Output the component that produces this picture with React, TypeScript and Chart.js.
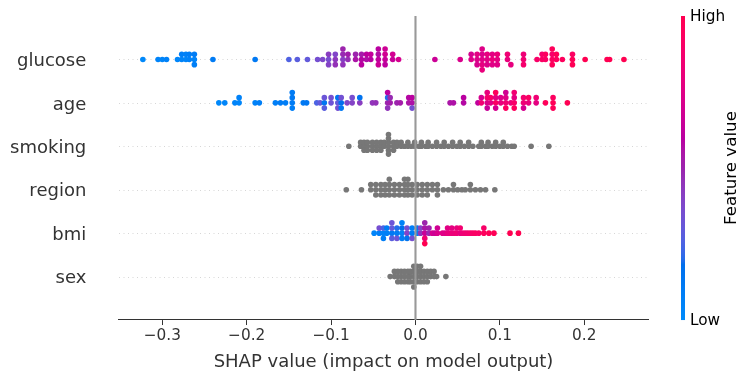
import React, { useEffect, useRef } from "react";
import { Chart, registerables } from "chart.js";

Chart.register(...registerables);

// ---------- data ----------
const FEATURES = ["glucose", "age", "smoking", "region", "bmi", "sex"]; // top to bottom
const X_TICKS = [-0.3, -0.2, -0.1, 0.0, 0.1, 0.2];
const X_MIN = -0.3513;
const X_MAX = 0.2755;
const X_TITLE = "SHAP value (impact on model output)";
const CBAR_LABELS = ["Low", "High"];
const CBAR_TITLE = "Feature value";

const glucoseShap = [
  -0.323, -0.305, -0.3, -0.295, -0.282, -0.277, -0.277, -0.272, -0.272, -0.268, -0.268,
  -0.262, -0.262, -0.262, -0.24, -0.19, -0.15, -0.14, -0.128,
  -0.116, -0.11, -0.103, -0.103, -0.103, -0.095, -0.095, -0.095, -0.086, -0.086, -0.086, -0.086,
  -0.08, -0.08, -0.071, -0.071, -0.064, -0.064, -0.064, -0.058, -0.058, -0.053, -0.053,
  -0.044, -0.044, -0.044, -0.044, -0.036, -0.036, -0.036, -0.036, -0.027, -0.027, -0.02,
  0.023, 0.053, 0.066, 0.066, 0.073, 0.073, 0.073, 0.079, 0.079, 0.079, 0.079, 0.079,
  0.085, 0.085, 0.085, 0.091, 0.091, 0.091, 0.097, 0.097, 0.097, 0.109, 0.109, 0.113,
  0.128, 0.128, 0.128, 0.144, 0.15, 0.15, 0.154, 0.154, 0.162, 0.162, 0.162, 0.162,
  0.167, 0.167, 0.174, 0.186, 0.186, 0.186, 0.201, 0.227, 0.23, 0.247,
];
const glucoseValue = [
  0.02, 0.05, 0.04, 0.06, 0.03, 0.05, 0.08, 0.04, 0.07, 0.06, 0.09,
  0.05, 0.1, 0.08, 0.11, 0.12, 0.26, 0.28, 0.3,
  0.35, 0.38, 0.36, 0.42, 0.4, 0.44, 0.39, 0.46, 0.41, 0.48, 0.45, 0.5,
  0.47, 0.52, 0.55, 0.5, 0.58, 0.53, 0.6, 0.56, 0.61, 0.59, 0.63,
  0.62, 0.57, 0.66, 0.6, 0.64, 0.68, 0.61, 0.67, 0.65, 0.69, 0.7,
  0.66, 0.72, 0.74, 0.7, 0.73, 0.77, 0.71, 0.75, 0.72, 0.78, 0.74, 0.8,
  0.76, 0.79, 0.73, 0.81, 0.77, 0.75, 0.78, 0.82, 0.76, 0.8, 0.84, 0.79,
  0.86, 0.83, 0.88, 0.9, 0.92, 0.88, 0.91, 0.94, 0.93, 0.89, 0.95, 0.96,
  0.94, 0.97, 0.95, 0.97, 0.93, 0.98, 1.0, 0.99, 1.0, 1.0,
];

const ageShap = [
  -0.233, -0.226, -0.214, -0.209, -0.209, -0.19, -0.185, -0.166, -0.16, -0.154,
  -0.146, -0.146, -0.146, -0.146, -0.133, -0.129,
  -0.117, -0.113, -0.108, -0.108, -0.108, -0.1, -0.1, -0.092, -0.092, -0.092,
  -0.088, -0.088, -0.088, -0.081, -0.075, -0.075, -0.066, -0.066,
  -0.051, -0.047, -0.033, -0.033, -0.033, -0.033, -0.03, -0.03, -0.022, -0.018,
  -0.008, -0.008, -0.004, -0.004, -0.004,
  0.041, 0.045, 0.057, 0.057, 0.074, 0.078, 0.078, 0.085, 0.085, 0.085, 0.085,
  0.089, 0.089, 0.095, 0.095, 0.095, 0.095, 0.101, 0.101, 0.107, 0.107, 0.107, 0.107,
  0.113, 0.117, 0.117, 0.117, 0.117, 0.128, 0.128, 0.128, 0.134, 0.134, 0.143, 0.143,
  0.154, 0.163, 0.163, 0.163, 0.18,
];
const ageValue = [
  0.02, 0.04, 0.05, 0.03, 0.06, 0.06, 0.08, 0.08, 0.1, 0.09,
  0.1, 0.12, 0.08, 0.11, 0.12, 0.13,
  0.25, 0.3, 0.14, 0.32, 0.28, 0.33, 0.35, 0.3, 0.15, 0.35,
  0.18, 0.34, 0.12, 0.38, 0.4, 0.36, 0.42, 0.16,
  0.45, 0.46, 0.5, 0.2, 0.45, 0.6, 0.52, 0.48, 0.5, 0.53,
  0.55, 0.58, 0.56, 0.6, 0.35,
  0.55, 0.56, 0.58, 0.6, 0.62, 0.85, 0.7, 0.72, 0.88, 0.65, 0.8,
  0.75, 0.9, 0.92, 0.78, 0.7, 0.95, 0.8, 0.73, 0.85, 0.75, 0.93, 0.68,
  0.82, 0.9, 0.78, 0.95, 0.85, 0.83, 0.87, 0.7, 0.8, 0.92, 0.78, 0.84,
  0.96, 0.98, 0.94, 0.97, 0.99,
];

const smokingShap = [
  -0.079, -0.065, -0.065, -0.061, -0.061, -0.061, -0.057, -0.057, -0.057,
  -0.051, -0.051, -0.051, -0.046, -0.046, -0.046, -0.041, -0.041, -0.041,
  -0.037, -0.037, -0.032, -0.032, -0.032, -0.032, -0.032, -0.032,
  -0.026, -0.026, -0.026, -0.022, -0.022,
  -0.017, -0.017, -0.013, -0.009, -0.009, -0.005, -0.001, -0.001, 0.004, 0.007, 0.007,
  0.012, 0.015, 0.015, 0.02, 0.025, 0.025, 0.03, 0.034, 0.034, 0.039, 0.044, 0.044,
  0.049, 0.053, 0.053, 0.058, 0.063, 0.063, 0.068,
  0.075, 0.078, 0.078, 0.083, 0.086, 0.086, 0.091, 0.095, 0.095, 0.1, 0.104, 0.104,
  0.109, 0.114, 0.117, 0.137, 0.158,
];

const regionShap = [
  -0.082, -0.064, -0.053, -0.053, -0.047, -0.047, -0.047, -0.041, -0.041, -0.041,
  -0.036, -0.036, -0.036, -0.031, -0.031, -0.031, -0.031, -0.025, -0.025, -0.025,
  -0.019, -0.019, -0.019, -0.013, -0.013, -0.013, -0.013, -0.009, -0.009, -0.009, -0.009,
  -0.004, -0.004, -0.004, 0.002, 0.002, 0.002, 0.008, 0.008, 0.008, 0.014, 0.014, 0.014,
  0.02, 0.02, 0.026, 0.026, 0.026,
  0.033, 0.039, 0.045, 0.045, 0.05, 0.055, 0.059, 0.065, 0.065, 0.071, 0.077, 0.083, 0.094,
];

const bmiShap = [
  -0.049, -0.043, -0.043, -0.038, -0.038, -0.038, -0.034, -0.034,
  -0.028, -0.028, -0.028, -0.028, -0.022, -0.022, -0.022, -0.016, -0.016, -0.016, -0.016,
  -0.01, -0.01, -0.01, -0.004, -0.004, -0.004, 0.002, 0.002, 0.006, 0.006,
  0.011, 0.011, 0.011, 0.011, 0.011, 0.016, 0.016, 0.02, 0.023, 0.026, 0.026,
  0.032, 0.035, 0.038, 0.038, 0.04, 0.043, 0.043, 0.046, 0.049, 0.049, 0.053, 0.053,
  0.056, 0.059, 0.062, 0.065, 0.068, 0.071, 0.075, 0.081, 0.081, 0.087, 0.093, 0.112, 0.122,
];
const bmiValue = [
  0.05, 0.08, 0.35, 0.06, 0.25, 0.09, 0.08, 0.11,
  0.12, 0.3, 0.28, 0.32, 0.1, 0.2, 0.32, 0.07, 0.18, 0.09, 0.06,
  0.4, 0.35, 0.15, 0.1, 0.08, 0.35, 0.06, 0.12, 0.45, 0.4,
  0.65, 0.55, 0.85, 0.5, 1.0, 0.48, 0.52, 0.7, 0.66, 0.72, 0.68,
  0.75, 0.74, 0.8, 0.76, 0.79, 0.82, 0.78, 0.81, 0.84, 0.8, 0.78, 0.86,
  0.83, 0.85, 0.86, 0.88, 0.9, 0.92, 0.91, 0.95, 0.9, 0.97, 0.98, 1.0, 1.0,
];

const sexShap = [
  -0.03, -0.025, -0.025, -0.021, -0.021, -0.021, -0.017, -0.017, -0.017,
  -0.013, -0.013, -0.013, -0.009, -0.009, -0.009, -0.006, -0.006, -0.006,
  -0.002, -0.002, -0.002, -0.002, -0.002, 0.002, 0.002, 0.002, 0.002,
  0.006, 0.006, 0.006, 0.006, 0.01, 0.01, 0.01, 0.014, 0.014, 0.014,
  0.018, 0.018, 0.022, 0.022, 0.025, 0.036,
];

const SHAP_BY_FEATURE: Record<string, number[]> = {
  glucose: glucoseShap,
  age: ageShap,
  smoking: smokingShap,
  region: regionShap,
  bmi: bmiShap,
  sex: sexShap,
};
const VALUE_BY_FEATURE: Record<string, number[] | null> = {
  glucose: glucoseValue,
  age: ageValue,
  smoking: null,
  region: null,
  bmi: bmiValue,
  sex: null,
};

// ---------- colormap (shap red_blue, Lch interpolation) ----------
function lchToRgb(l: number, c: number, h: number): number[] {
  const a = c * Math.cos(h);
  const b = c * Math.sin(h);
  const fy = (l + 16) / 116;
  const fx = fy + a / 500;
  const fz = fy - b / 200;
  const finv = (t: number) => (t > 0.2068966 ? t * t * t : (t - 16 / 116) / 7.787);
  const X = 0.95047 * finv(fx);
  const Y = 1.0 * finv(fy);
  const Z = 1.08883 * finv(fz);
  const lin = [
    3.2404542 * X - 1.5371385 * Y - 0.4985314 * Z,
    -0.969266 * X + 1.8760108 * Y + 0.041556 * Z,
    0.0556434 * X - 0.2040259 * Y + 1.0572252 * Z,
  ];
  return lin.map((v) => {
    const g = v > 0.0031308 ? 1.055 * Math.pow(v, 1 / 2.4) - 0.055 : 12.92 * v;
    return Math.round(Math.min(1, Math.max(0, g)) * 255);
  });
}
const CMAP_TABLE: number[][] = (() => {
  const out: number[][] = [];
  const n = 100;
  const h0 = 4.6588;
  const h1 = 0.35470565 + 2 * Math.PI;
  for (let i = 0; i < n; i++) {
    const l = i < 50 ? 54 + ((40 - 54) * i) / 49 : 40 + ((54 - 40) * (i - 50)) / 49;
    const c = 70 + (20 * i) / (n - 1);
    const h = h0 + ((h1 - h0) * i) / (n - 1);
    out.push(lchToRgb(l, c, h));
  }
  return out;
})();
function cmap(t: number): string {
  const tt = Math.min(1, Math.max(0, t));
  const p = tt * (CMAP_TABLE.length - 1);
  const i = Math.floor(p);
  const f = p - i;
  const a = CMAP_TABLE[i];
  const b = CMAP_TABLE[Math.min(CMAP_TABLE.length - 1, i + 1)];
  const m = a.map((v, k) => Math.round(v + (b[k] - v) * f));
  return `rgb(${m[0]},${m[1]},${m[2]})`;
}

// ---------- beeswarm offsets (same rule as shap) ----------
function swarmOffsets(shaps: number[], rowHeight = 0.4): number[] {
  const nbins = 100;
  const mn = Math.min(...shaps);
  const mx = Math.max(...shaps);
  const quant = shaps.map((s) => Math.round((nbins * (s - mn)) / (mx - mn + 1e-8)));
  const inds = shaps.map((_, i) => i).sort((a, b) => quant[a] - quant[b] || a - b);
  const ys = new Array(shaps.length).fill(0);
  let layer = 0;
  let last = -1;
  for (const ind of inds) {
    if (quant[ind] !== last) layer = 0;
    ys[ind] = Math.ceil(layer / 2) * ((layer % 2) * 2 - 1);
    layer += 1;
    last = quant[ind];
  }
  const m = Math.max(...ys.map((y) => y + 1));
  const k = 0.9 * (rowHeight / m);
  return ys.map((y) => y * k);
}

const FONT = "DejaVu Sans";

export default function App() {
  const ref = useRef<HTMLCanvasElement | null>(null);

  useEffect(() => {
    if (!ref.current) return;
    const n = FEATURES.length;

    const datasets = FEATURES.map((name, i) => {
      const pos = n - 1 - i;
      const shaps = SHAP_BY_FEATURE[name];
      const vals = VALUE_BY_FEATURE[name];
      const offs = swarmOffsets(shaps);
      return {
        label: name,
        data: shaps.map((s, j) => ({ x: s, y: pos + offs[j] })),
        pointBackgroundColor: vals ? vals.map((v) => cmap(v)) : "#777777",
        pointBorderWidth: 0,
        pointRadius: 2.8,
        showLine: false,
      };
    }).reverse();

    const rowLines = {
      id: "rowLines",
      beforeDatasetsDraw(chart: any) {
        const { ctx, chartArea } = chart;
        const y = chart.scales.y;
        ctx.save();
        ctx.strokeStyle = "#cccccc";
        ctx.lineWidth = 0.8;
        ctx.setLineDash([1, 3.5]);
        for (let p = 0; p < n; p++) {
          const py = Math.round(y.getPixelForValue(p)) + 0.5;
          ctx.beginPath();
          ctx.moveTo(chartArea.left, py);
          ctx.lineTo(chartArea.right, py);
          ctx.stroke();
        }
        ctx.restore();
      },
      afterDatasetsDraw(chart: any) {
        const { ctx, chartArea } = chart;
        const x0 = chart.scales.x.getPixelForValue(0);
        ctx.save();
        ctx.strokeStyle = "#999999";
        ctx.lineWidth = 2.1;
        ctx.beginPath();
        ctx.moveTo(x0, chartArea.top);
        ctx.lineTo(x0, chartArea.bottom);
        ctx.stroke();
        ctx.restore();
      },
    };

    const labelsAndColorbar = {
      id: "labelsAndColorbar",
      afterDraw(chart: any) {
        const { ctx, chartArea } = chart;
        const y = chart.scales.y;
        ctx.save();
        // feature names (matplotlib y tick labels: tick length 20pt + pad 3.5pt)
        ctx.fillStyle = "#333333";
        ctx.font = `18px "${FONT}"`;
        ctx.textAlign = "right";
        ctx.textBaseline = "middle";
        FEATURES.forEach((name, i) => {
          const pos = n - 1 - i;
          ctx.fillText(name, chartArea.left - 32.7, y.getPixelForValue(pos) + 2);
        });
        // colorbar
        const cbX = 681;
        const cbW = 4;
        const cbTop = chartArea.top;
        const cbBottom = chartArea.bottom;
        const grad = ctx.createLinearGradient(0, cbBottom, 0, cbTop);
        CMAP_TABLE.forEach((c, i) => {
          grad.addColorStop(i / (CMAP_TABLE.length - 1), `rgb(${c[0]},${c[1]},${c[2]})`);
        });
        ctx.fillStyle = grad;
        ctx.fillRect(cbX, cbTop, cbW, cbBottom - cbTop);
        ctx.fillStyle = "#000000";
        ctx.font = `15.3px "${FONT}"`;
        ctx.textAlign = "left";
        ctx.textBaseline = "middle";
        ctx.fillText(CBAR_LABELS[1], cbX + cbW + 5, cbTop + 1);
        ctx.fillText(CBAR_LABELS[0], cbX + cbW + 5, cbBottom + 1);
        ctx.translate(732, (cbTop + cbBottom) / 2);
        ctx.rotate(-Math.PI / 2);
        ctx.textAlign = "center";
        ctx.font = `16.7px "${FONT}"`;
        ctx.fillText(CBAR_TITLE, 0, 0);
        ctx.restore();
      },
    };

    const chart = new Chart(ref.current, {
      type: "scatter",
      data: { datasets: datasets as any },
      options: {
        animation: false,
        responsive: false,
        events: [],
        layout: { padding: { left: 119, right: 104, top: 16, bottom: 6.6 } },
        plugins: { legend: { display: false }, tooltip: { enabled: false } },
        scales: {
          x: {
            type: "linear",
            min: X_MIN,
            max: X_MAX,
            afterBuildTicks: (s: any) => {
              s.ticks = X_TICKS.map((v) => ({ value: v }));
            },
            ticks: {
              autoSkip: false,
              maxRotation: 0,
              padding: 2,
              color: "#333333",
              font: { family: FONT, size: 15.3 },
              callback: (v: any) => {
                const num = Number(v);
                return (num < -1e-9 ? "\u2212" : "") + Math.abs(num).toFixed(1);
              },
            },
            grid: {
              drawOnChartArea: false,
              drawTicks: true,
              tickLength: 5,
              color: "#333333",
              lineWidth: 1,
            },
            border: { display: true, color: "#333333", width: 1.1 },
            title: {
              display: true,
              text: X_TITLE,
              color: "#333333",
              font: { family: FONT, size: 18 },
              padding: { top: 4.4, bottom: 0 },
            },
          },
          y: { type: "linear", min: -1, max: 6, display: false },
        },
      },
      plugins: [rowLines, labelsAndColorbar],
    });
    return () => chart.destroy();
  }, []);

  return (
    <div style={{ position: "fixed", left: 0, top: 0, width: 752, height: 380, background: "#ffffff" }}>
      <canvas ref={ref} width={752} height={380} style={{ display: "block", width: 752, height: 380 }} />
    </div>
  );
}
